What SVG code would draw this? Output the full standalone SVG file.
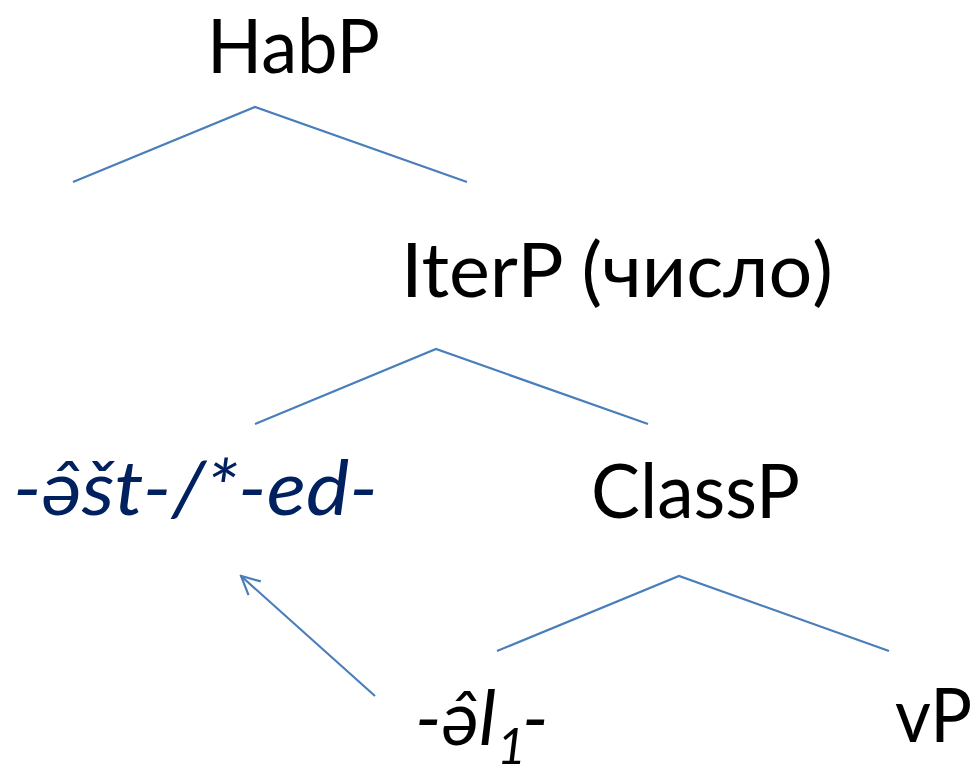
<svg xmlns="http://www.w3.org/2000/svg" width="978" height="768" viewBox="0 0 978 768">
<style>
  .lbl { font-family: "Lato", "Noto Sans", "Liberation Sans", sans-serif; font-size: 76px; fill: #000; }
  .it { font-style: italic; }
  .blue { fill: #002060; }
  .edge { stroke: #4a7ebb; stroke-width: 2.2; fill: none; }
</style>
<defs>
  <marker id="vhead" markerUnits="userSpaceOnUse" viewBox="0 0 12 12" refX="11" refY="6" markerWidth="22" markerHeight="22" orient="auto">
    <path d="M1,1 L11,6 L1,11" fill="none" stroke="#4a7ebb" stroke-width="1.2"/>
  </marker>
</defs>
<rect width="978" height="768" fill="#fff"/>
<g id="connectors">
  <polyline class="edge" points="73,182 255,107 467,182"/>
  <polyline class="edge" points="255,424 436,349 648,424"/>
  <polyline class="edge" points="497,651 679,576 889,651"/>
  <line class="edge" x1="375" y1="696" x2="241" y2="576" marker-end="url(#vhead)"/>
</g>
<g id="habp"><text class="lbl" x="207" y="73" textLength="173" lengthAdjust="spacingAndGlyphs">HabP</text></g>
<g id="iterp"><text class="lbl" x="401" y="297" textLength="432" lengthAdjust="spacingAndGlyphs">IterP (число)</text></g>
<g id="ast-ed"><text class="lbl it blue" x="13" y="515" textLength="365" lengthAdjust="spacingAndGlyphs">-ə̂št-/*-ed-</text></g>
<g id="classp"><text class="lbl" x="591" y="518" textLength="209" lengthAdjust="spacingAndGlyphs">ClassP</text></g>
<g id="al1"><text class="lbl it" x="415" y="745"><tspan x="415" y="745">-ə̂l</tspan><tspan x="497" y="764" font-size="50">1</tspan><tspan x="522" y="745">-</tspan></text></g>
<g id="vp"><text class="lbl" x="895" y="742" textLength="77" lengthAdjust="spacingAndGlyphs">vP</text></g>
</svg>
